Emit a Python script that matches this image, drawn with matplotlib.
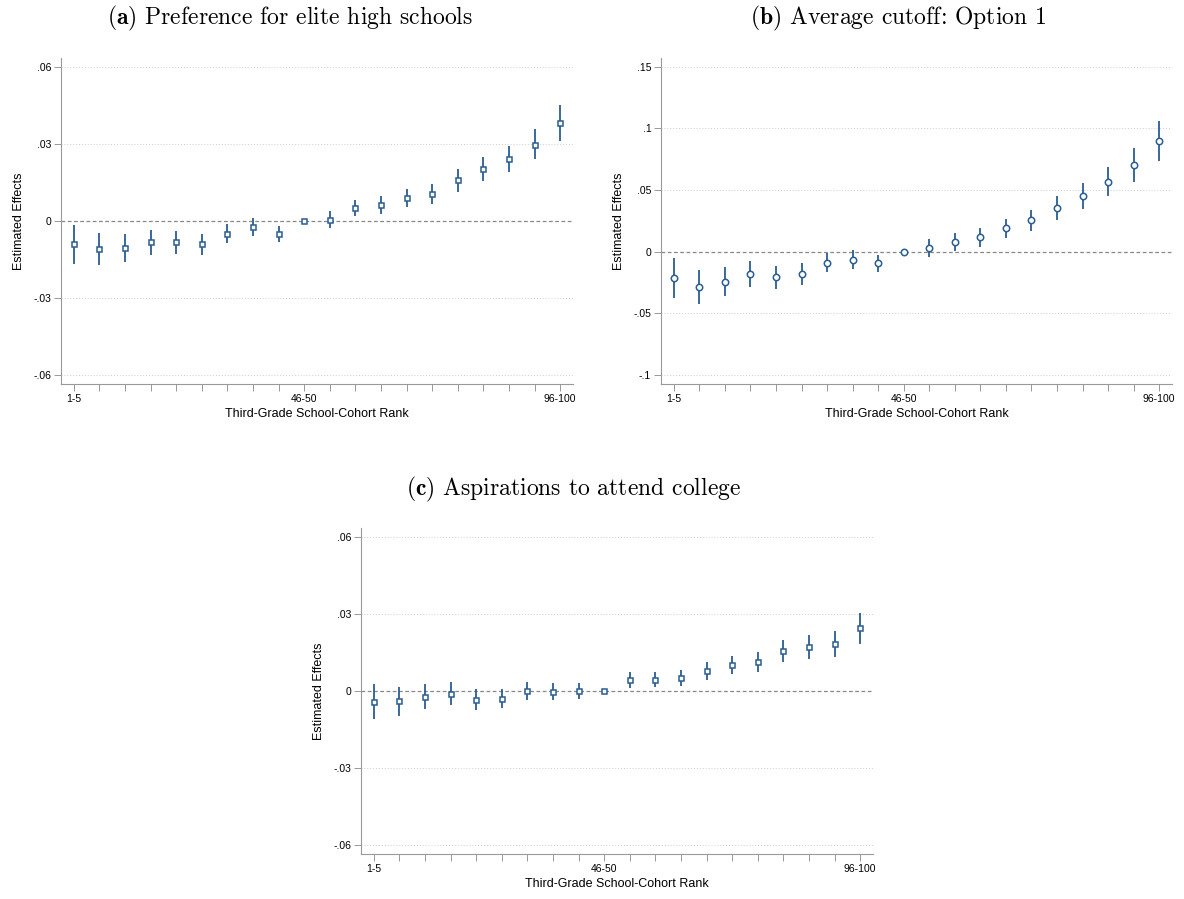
import matplotlib.pyplot as plt

plt.rcParams["font.family"] = ["Liberation Sans", "DejaVu Sans"]
plt.rcParams["mathtext.fontset"] = "cm"

# rank bins 1-5 ... 96-100
ranks = list(range(1, 21))
tick_labels = {1: "1-5", 10: "46-50", 20: "96-100"}

# (a) Preference for elite high schools
a_est = [-0.0091, -0.0108, -0.0106, -0.0082, -0.0083, -0.0090, -0.0050, -0.0023, -0.0051, 0.0,
         0.0005, 0.0050, 0.0061, 0.0087, 0.0106, 0.0158, 0.0203, 0.0241, 0.0297, 0.0381]
a_hi = [-0.0018, -0.0046, -0.0052, -0.0035, -0.0039, -0.0050, -0.0013, 0.0010, -0.0020, 0.0,
        0.0038, 0.0082, 0.0097, 0.0125, 0.0145, 0.0200, 0.0249, 0.0292, 0.0356, 0.0449]
a_lo = [-0.0166, -0.0172, -0.0160, -0.0132, -0.0128, -0.0132, -0.0086, -0.0060, -0.0083, 0.0,
        -0.0026, 0.0017, 0.0027, 0.0052, 0.0067, 0.0113, 0.0155, 0.0189, 0.0239, 0.0312]

# (b) Average cutoff: Option 1
b_est = [-0.0212, -0.0285, -0.0245, -0.0182, -0.0209, -0.0182, -0.0090, -0.0065, -0.0092, 0.0,
         0.0030, 0.0082, 0.0117, 0.0190, 0.0253, 0.0351, 0.0454, 0.0565, 0.0701, 0.0897]
b_hi = [-0.0054, -0.0149, -0.0128, -0.0076, -0.0117, -0.0090, -0.0011, 0.0011, -0.0024, 0.0,
        0.0101, 0.0152, 0.0193, 0.0269, 0.0340, 0.0448, 0.0560, 0.0685, 0.0837, 0.1060]
b_lo = [-0.0372, -0.0421, -0.0361, -0.0285, -0.0302, -0.0266, -0.0168, -0.0139, -0.0163, 0.0,
        -0.0041, 0.0008, 0.0041, 0.0111, 0.0166, 0.0253, 0.0348, 0.0448, 0.0565, 0.0736]

# (c) Aspirations to attend college
c_est = [-0.0043, -0.0040, -0.0023, -0.0013, -0.0034, -0.0030, 0.0, -0.0003, 0.0, 0.0,
         0.0042, 0.0043, 0.0050, 0.0077, 0.0100, 0.0111, 0.0155, 0.0171, 0.0181, 0.0244]
c_hi = [0.0026, 0.0016, 0.0027, 0.0033, 0.0008, 0.0008, 0.0034, 0.0029, 0.0030, 0.0,
        0.0073, 0.0073, 0.0081, 0.0111, 0.0136, 0.0150, 0.0197, 0.0218, 0.0233, 0.0303]
c_lo = [-0.0111, -0.0097, -0.0072, -0.0057, -0.0074, -0.0067, -0.0034, -0.0034, -0.0030, 0.0,
        0.0012, 0.0014, 0.0020, 0.0043, 0.0065, 0.0073, 0.0113, 0.0125, 0.0130, 0.0184]

navy = "#2a5d92"
W, H = 1184, 899

panels = [
    ("a", "Preference for elite high schools", a_est, a_lo, a_hi, "s",
     [0.06, 0.03, 0, -0.03, -0.06], [".06", ".03", "0", "-.03", "-.06"], (61, 58, 573, 384), (290, 18)),
    ("b", "Average cutoff: Option 1", b_est, b_lo, b_hi, "o",
     [0.15, 0.1, 0.05, 0, -0.05, -0.1], [".15", ".1", ".05", "0", "-.05", "-.1"], (661, 58, 1172, 384), (898, 18)),
    ("c", "Aspirations to attend college", c_est, c_lo, c_hi, "s",
     [0.06, 0.03, 0, -0.03, -0.06], [".06", ".03", "0", "-.03", "-.06"], (361, 528, 873, 854), (574, 489)),
]

fig = plt.figure(figsize=(W / 100, H / 100), dpi=100)

for letter, title, est, lo, hi, mk, yt, ytl, box, tpos in panels:
    x0, y0, x1, y1 = box
    ax = fig.add_axes([x0 / W, 1 - y1 / H, (x1 - x0) / W, (y1 - y0) / H])
    ax.vlines(ranks, lo, hi, color=navy, lw=1.3, zorder=3)
    ax.plot(ranks, est, ls="none", marker=mk, ms=3.6 if mk == "s" else 4.6,
            mfc="white", mec=navy, mew=1.1, zorder=4)
    ax.axhline(0, color="#888888", ls=(0, (3, 2)), lw=0.9, zorder=1)
    for v in yt:
        if v != 0:
            ax.axhline(v, color="#cccccc", ls=(0, (1, 2)), lw=0.7, zorder=0)
    # y-range so that the extreme ticks sit just inside the frame
    span = yt[0] - yt[-1]
    ax.set_ylim(yt[-1] - span * 0.029, yt[0] + span * 0.028)
    ax.set_xlim(0.5, 20.5)
    ax.set_yticks(yt)
    ax.set_yticklabels(ytl)
    ax.set_xticks(ranks)
    ax.set_xticklabels([tick_labels.get(r, "") for r in ranks])
    ax.tick_params(axis="both", labelsize=7.5, color="#999999", length=5, width=0.7)
    ax.tick_params(axis="x", pad=2)
    ax.tick_params(axis="y", pad=2)
    for s in ["top", "right"]:
        ax.spines[s].set_visible(False)
    for s in ["left", "bottom"]:
        ax.spines[s].set_color("#999999")
        ax.spines[s].set_linewidth(0.8)
    ax.set_ylabel("Estimated Effects", fontsize=9, labelpad=6)
    ax.set_xlabel("Third-Grade School-Cohort Rank", fontsize=9, labelpad=3)
    fig.text(tpos[0] / W, 1 - tpos[1] / H, r"$\mathbf{(" + letter + r")}$ " + title,
             ha="center", va="center", fontsize=17, family="cmr10")

fig.savefig("out.png", dpi=100, facecolor="white")
